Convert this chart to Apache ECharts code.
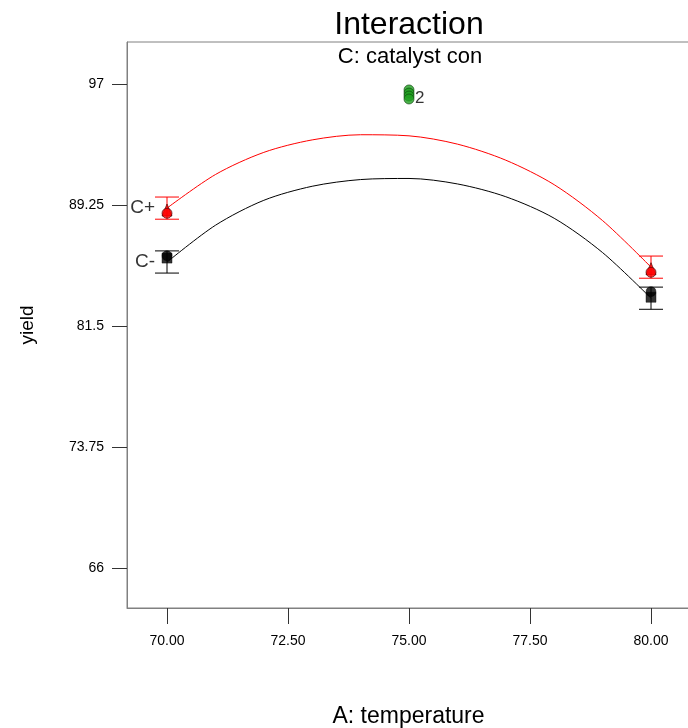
<!DOCTYPE html>
<html>
<head>
<meta charset="utf-8">
<script src="https://cdn.jsdelivr.net/npm/echarts@6/dist/echarts.min.js"></script>
<style>
html,body{margin:0;padding:0;background:#fff;}
#chart{width:688px;height:728px;}
</style>
</head>
<body>
<div id="chart"></div>
<script>
// ---- data ----
const xTicks = [70, 72.5, 75, 77.5, 80];
const yTicks = [66, 73.75, 81.5, 89.25, 97];
const curveX = [70, 71, 72, 73, 74, 75, 76, 77, 78, 79, 80];
const redCurve = [89.05, 91.20, 92.62, 93.42, 93.75, 93.68, 93.15, 92.12, 90.55, 88.25, 85.27];
const blackCurve = [85.59, 87.95, 89.55, 90.45, 90.88, 90.95, 90.60, 89.78, 88.40, 86.20, 83.28];
const redErr = [[70, 88.34, 89.76], [80, 84.56, 85.98]];
const blackErr = [[70, 84.89, 86.31], [80, 82.57, 83.99]];
const redCircles = [[70, 88.72], [80, 84.94]];
const redTriangles = [[70, 88.93], [80, 85.17]];
const blackSquares = [[70, 85.85], [80, 83.34]];
const blackCircles = [[70, 86.00], [80, 83.70]];
const greenCircles = [[75, 96.62], [75, 96.42], [75, 96.23], [75, 96.04]];
const curveLabels = [{ value: [70, 89.05], name: 'C+' }, { value: [70, 85.59], name: 'C-' }];
const countLabels = [{ value: [75, 96.10], name: '2' }];

const FONT = '"Liberation Sans", Arial, sans-serif';

function errSeries(data, color) {
  return {
    type: 'custom',
    data: data,
    z: 2,
    renderItem: function (params, api) {
      const x = api.value(0);
      const lo = api.coord([x, api.value(1)]);
      const hi = api.coord([x, api.value(2)]);
      const w = 12;
      const st = { stroke: color, lineWidth: 1 };
      return {
        type: 'group',
        children: [
          { type: 'line', shape: { x1: lo[0], y1: lo[1], x2: hi[0], y2: hi[1] }, style: st },
          { type: 'line', shape: { x1: lo[0] - w, y1: lo[1], x2: lo[0] + w, y2: lo[1] }, style: st },
          { type: 'line', shape: { x1: hi[0] - w, y1: hi[1], x2: hi[0] + w, y2: hi[1] }, style: st }
        ]
      };
    }
  };
}

const chart = echarts.init(document.getElementById('chart'), null, { renderer: 'canvas' });
chart.setOption({
  animation: false,
  backgroundColor: '#ffffff',
  textStyle: { fontFamily: FONT },
  graphic: [
    { type: 'text', z: 100, style: { text: 'Interaction', x: 409, y: 25, textAlign: 'center', textVerticalAlign: 'middle', font: '32px ' + FONT, fill: '#000' } },
    { type: 'text', z: 100, style: { text: 'C: catalyst con', x: 410, y: 57, textAlign: 'center', textVerticalAlign: 'middle', font: '22px ' + FONT, fill: '#000' } }
  ],
  grid: {
    left: 127, top: 42, width: 563, height: 566,
    outerBoundsMode: 'none',
    containLabel: false,
    show: true, borderColor: '#808080', borderWidth: 1, backgroundColor: 'transparent'
  },
  xAxis: {
    type: 'value',
    min: 70 - 40 / 48.4,
    max: 80 + 39 / 48.4,
    name: 'A: temperature',
    nameLocation: 'middle',
    nameGap: 97,
    nameTextStyle: { fontSize: 23, color: '#000', fontFamily: FONT },
    splitLine: { show: false },
    axisLine: { show: true, lineStyle: { color: '#808080', width: 1 } },
    axisTick: { show: true, length: 16, customValues: xTicks, lineStyle: { color: '#333' } },
    axisLabel: {
      customValues: xTicks, margin: 26, fontSize: 14, color: '#000', fontFamily: FONT,
      formatter: v => v.toFixed(2)
    }
  },
  yAxis: {
    type: 'value',
    min: 66 - 40 / 15.613,
    max: 97 + 42 / 15.613,
    name: 'yield',
    nameLocation: 'middle',
    nameGap: 90,
    nameTextStyle: { fontSize: 19, color: '#000', fontFamily: FONT },
    splitLine: { show: false },
    axisLine: { show: true, lineStyle: { color: '#808080', width: 1 } },
    axisTick: { show: true, length: 15, customValues: yTicks, lineStyle: { color: '#333' } },
    axisLabel: {
      customValues: yTicks, margin: 23, fontSize: 14, color: '#000', fontFamily: FONT,
      formatter: v => String(v)
    }
  },
  series: [
    errSeries(redErr, '#ff0000'),
    errSeries(blackErr, '#000000'),
    {
      type: 'line', smooth: 0.3, symbol: 'none', z: 3,
      data: curveX.map((x, i) => [x, redCurve[i]]),
      lineStyle: { color: '#ff0000', width: 1 }
    },
    {
      type: 'line', smooth: 0.3, symbol: 'none', z: 3,
      data: curveX.map((x, i) => [x, blackCurve[i]]),
      lineStyle: { color: '#000000', width: 1 }
    },
    {
      type: 'scatter', data: blackCircles, symbol: 'circle', symbolSize: 10, z: 4,
      itemStyle: { color: '#000', borderColor: '#000', borderWidth: 0.5 }
    },
    {
      type: 'scatter', data: blackSquares, symbol: 'rect', symbolSize: 10, z: 4,
      itemStyle: { color: '#000', borderColor: '#000', borderWidth: 0.5 }
    },
    {
      type: 'scatter', data: redTriangles, symbol: 'triangle', symbolSize: [10, 12], z: 4,
      itemStyle: { color: '#ff0000', borderColor: '#400000', borderWidth: 0.8 }
    },
    {
      type: 'scatter', data: redCircles, symbol: 'circle', symbolSize: 10, z: 5,
      itemStyle: { color: '#ff0000', borderColor: '#400000', borderWidth: 0.8 }
    },
    {
      type: 'scatter', data: greenCircles, symbol: 'circle', symbolSize: 10, z: 5,
      itemStyle: { color: '#1fa01f', borderColor: '#0a400a', borderWidth: 0.8 }
    },
    {
      type: 'scatter', data: curveLabels, symbolSize: 0, z: 6, silent: true,
      label: { show: true, position: 'left', distance: 12, formatter: p => p.name, fontSize: 19, color: '#000', fontFamily: FONT }
    },
    {
      type: 'scatter', data: countLabels, symbolSize: 0, z: 6, silent: true,
      label: { show: true, position: 'right', distance: 6, formatter: p => p.name, fontSize: 17, color: '#000', fontFamily: FONT }
    }
  ]
});
</script>
</body>
</html>
